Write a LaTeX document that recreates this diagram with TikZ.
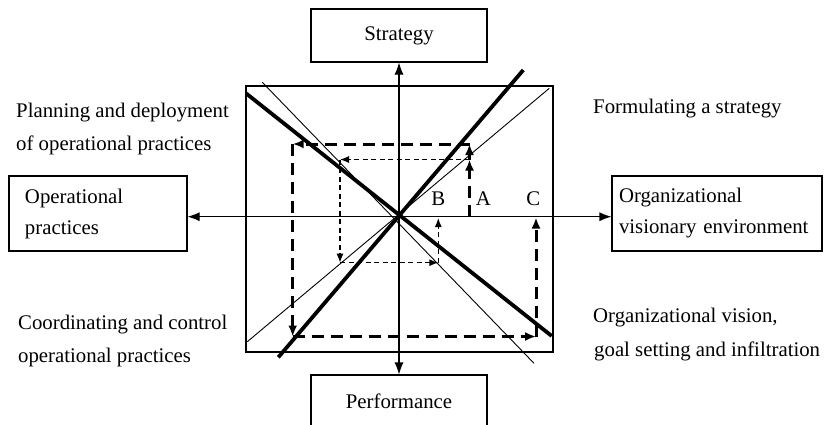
\documentclass[tikz,border=0pt]{standalone}
\usepackage{fontspec}
\setmainfont{Liberation Serif}
\usetikzlibrary{arrows.meta}
\begin{document}
\begin{tikzpicture}[x=1bp,y=-1bp,
  font=\fontsize{20.8bp}{31bp}\selectfont,
  box/.style={draw,line width=1.1bp,inner sep=0pt},
  lbl/.style={anchor=base west,inner sep=0pt},
  letter/.style={anchor=base,inner sep=0pt},
  axis/.style={line width=1.1bp,{Latex[length=12bp,width=9bp]}-{Latex[length=12bp,width=9bp]}},
  thinln/.style={line width=0.9bp},
  thickln/.style={line width=3.8bp},
  bigdash/.style={line width=3bp,dash pattern=on 12bp off 7bp,-{Latex[length=11bp,width=9bp]}},
  smalldash/.style={line width=1.2bp,dash pattern=on 5bp off 3.5bp,-{Latex[length=9bp,width=7bp]}},
]
\useasboundingbox (0,0) rectangle (824,424);
\clip (0,0) rectangle (824,424);

% boxes
\node[box,minimum width=176bp,minimum height=53bp] (strat) at (399,35.5) {Strategy};
\node[box,minimum width=176bp,minimum height=53bp] (perf) at (399,401.5) {Performance};
\node[box,minimum width=178bp,minimum height=75bp,text width=146bp,align=left] (oper) at (98,213.5) {Operational\\practices};
\node[box,minimum width=210bp,minimum height=75bp,text width=196bp,align=left] (org) at (717,213.5) {Organizational\\visionary environment};

% square
\node[box,minimum width=307bp,minimum height=266bp] (sq) at (399.5,219) {};

\coordinate (O) at (399.3,216.7);

% axes
\draw[axis] (strat.south) -- (perf.north);
\draw[axis] (oper.east |- O) -- (org.west |- O);

% diagonals
\coordinate (d1a) at (278.3,357.3); \coordinate (d1b) at (523.3,70);
\coordinate (d2a) at (246,93.3);    \coordinate (d2b) at (551.7,336);
\coordinate (d3a) at (247.3,341.7); \coordinate (d3b) at (549.3,88.3);
\coordinate (d4a) at (262.3,82.3);  \coordinate (d4b) at (534,363.3);
\draw[thickln] (d1a) -- (d1b);
\draw[thickln] (d2a) -- (d2b);
\draw[thinln] (d3a) -- (d3b);
\draw[thinln] (d4a) -- (d4b);

% spiral points
\coordinate (A0) at (469.5,216.7);
\coordinate (A1) at (469.5,159.5);
\coordinate (A2) at (469.5,144);
\coordinate (TL) at (292.7,144);
\coordinate (BL) at (292.7,336.5);
\coordinate (BR) at (536,336.5);
\coordinate (C0) at (536,217.5);
\coordinate (L1) at (340,159.5);
\coordinate (L2) at (340,262.7);
\coordinate (L3) at (438.3,262.7);
\coordinate (B0) at (438.3,218);

\draw[bigdash] (A0) -- (A1);
\draw[bigdash] (A1) -- (A2);
\draw[bigdash] (A2) -- (TL);
\draw[bigdash] (TL) -- (BL);
\draw[bigdash] (BL) -- (BR);
\draw[bigdash] (BR) -- (C0);
\draw[smalldash] (A1) -- (L1);
\draw[smalldash] (L1) -- (L2);
\draw[smalldash] (L2) -- (L3);
\draw[smalldash] (L3) -- (B0);

% letters
\node[letter] (B) at (438.3,205) {B};
\node[letter] (A) at (483.3,205) {A};
\node[letter] (C) at (533.3,205) {C};

% side texts
\node[lbl] (p1) at (16,117) {Planning and deployment};
\node[lbl] (p2) at (16,150) {of operational practices};
\node[lbl] (f1) at (593,113) {Formulating a strategy};
\node[lbl] (c1) at (18,329) {Coordinating and control};
\node[lbl] (c2) at (18,362) {operational practices};
\node[lbl] (v1) at (593,322) {Organizational vision,};
\node[lbl] (v2) at (594,356) {goal setting and infiltration};
\end{tikzpicture}
\end{document}
